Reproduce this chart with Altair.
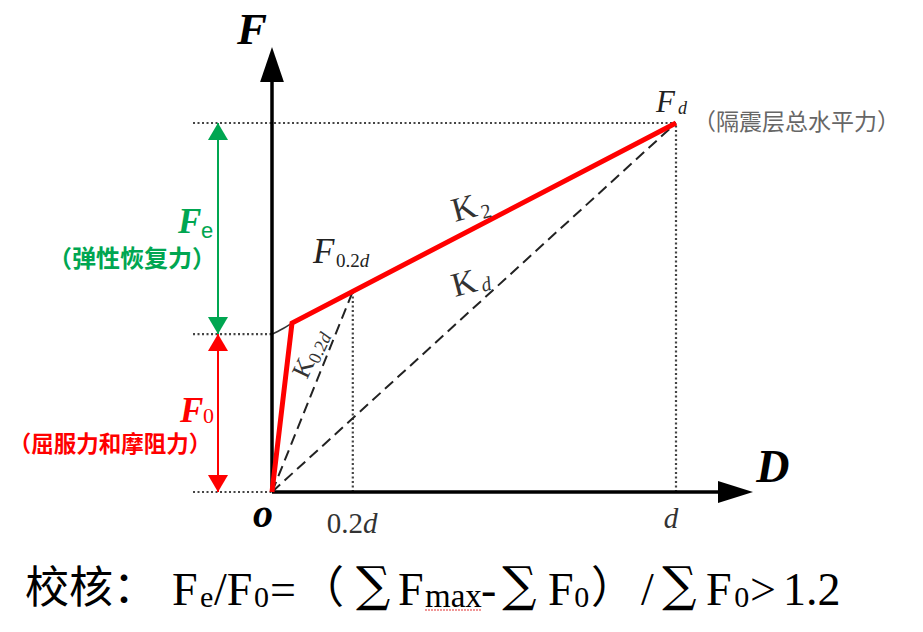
import altair as alt
import pandas as pd

# ---------------- diagram data (units: displacement d = 1, force Fd = 1) ----------------
curve_disp = [0.0, 0.0495, 1.0]          # O -> yield point -> d
curve_force = [0.0, 0.458, 1.0]          # 0 -> F0 kink -> Fd
F0_level = 0.428
d_02 = 0.2
F_02d = 0.544
d_full = 1.0
F_d = 1.0

secant_names = ["K0.2d", "Kd"]
secant_end_x = [d_02, d_full]
secant_end_y = [F_02d, F_d]

arc_x = [0.0, 0.024, 0.0495]
arc_y = [0.427, 0.441, 0.458]

axis_len = 1.12
y_arrow_tip = 1.206
x_arrow_tip = 1.1906
bracket_x = -0.1337
guide_left = -0.1955

# scale domains (plot frame)
XDOM = [-0.65347, 1.59158]
YDOM = [-0.35772, 1.31165]
xs = alt.Scale(domain=XDOM, nice=False, zero=False)
ys = alt.Scale(domain=YDOM, nice=False, zero=False)

GREEN = "#00a651"
RED = "#ff0000"

def X(f="x"):
    return alt.X(f"{f}:Q", scale=xs, axis=None)

def Y(f="y"):
    return alt.Y(f"{f}:Q", scale=ys, axis=None)

# ---------------- axes ----------------
axes_df = pd.DataFrame({
    "x": [0.0, 0.0], "x2": [0.0, axis_len],
    "y": [0.0, 0.0], "y2": [axis_len, 0.0],
})
axes = alt.Chart(axes_df).mark_rule(color="black", strokeWidth=3.5).encode(
    x=X(), x2="x2:Q", y=Y(), y2="y2:Q")

UP_BIG = "M0,0L0.34,1L-0.34,1Z"
RIGHT_BIG = "M0,0L-1,-0.314L-1,0.314Z"
UP_SMALL = "M0,0L0.59,1L-0.59,1Z"
DOWN_SMALL = "M0,0L0.59,-1L-0.59,-1Z"

heads_df = pd.DataFrame({
    "x": [0.0, x_arrow_tip, bracket_x, bracket_x, bracket_x, bracket_x],
    "y": [y_arrow_tip, 0.0, F_d, F0_level, F0_level, 0.0],
    "shape": [UP_BIG, RIGHT_BIG, UP_SMALL, DOWN_SMALL, UP_SMALL, DOWN_SMALL],
    "size": [4900, 4900, 1156, 1156, 1156, 1156],
    "color": ["black", "black", GREEN, GREEN, RED, RED],
})
heads = alt.Chart(heads_df).mark_point(filled=True, opacity=1, strokeWidth=0).encode(
    x=X(), y=Y(),
    shape=alt.Shape("shape:N", scale=None),
    size=alt.Size("size:Q", scale=None),
    color=alt.Color("color:N", scale=None))

# ---------------- dotted guides ----------------
guides_df = pd.DataFrame({
    "x": [guide_left, guide_left, guide_left, d_full, d_02],
    "x2": [d_full, 0.0, 0.0, d_full, d_02],
    "y": [F_d, F0_level, 0.0, 0.0, 0.0],
    "y2": [F_d, F0_level, 0.0, F_d, F_02d],
})
guides = alt.Chart(guides_df).mark_rule(color="#444444", strokeWidth=2.2, strokeDash=[2, 2.5]).encode(
    x=X(), x2="x2:Q", y=Y(), y2="y2:Q")

# ---------------- bracket lines ----------------
brk_df = pd.DataFrame({
    "x": [bracket_x, bracket_x], "y": [F0_level, 0.0], "y2": [F_d, F0_level],
    "color": [GREEN, RED],
})
brackets = alt.Chart(brk_df).mark_rule(strokeWidth=2).encode(
    x=X(), y=Y(), y2="y2:Q", color=alt.Color("color:N", scale=None))

# ---------------- secants ----------------
sec_df = pd.DataFrame({"name": secant_names, "x": [0.0, 0.0], "y": [0.0, 0.0],
                       "x2": secant_end_x, "y2": secant_end_y})
secants = alt.Chart(sec_df).mark_rule(color="#222222", strokeWidth=2, strokeDash=[11, 6]).encode(
    x=X(), x2="x2:Q", y=Y(), y2="y2:Q")

# ---------------- curve ----------------
curve_df = pd.DataFrame({"x": curve_disp, "y": curve_force, "o": [0, 1, 2]})
curve = alt.Chart(curve_df).mark_line(color=RED, strokeWidth=5, strokeJoin="miter").encode(
    x=X(), y=Y(), order="o:Q")

arc_df = pd.DataFrame({"x": arc_x, "y": arc_y, "o": [0, 1, 2]})
arc = alt.Chart(arc_df).mark_line(color="#333333", strokeWidth=1.5, interpolate="monotone").encode(
    x=X(), y=Y(), order="o:Q")

# ---------------- text ----------------
FONTS = {
    "serif": ("Liberation Serif", "normal", "normal"),
    "serif_i": ("Liberation Serif", "italic", "normal"),
    "serif_bi": ("Liberation Serif", "italic", "bold"),
    "sans": ("Liberation Sans", "normal", "normal"),
    "cjk": ("Noto Sans CJK SC", "normal", "normal"),
    "cjk_b": ("Noto Sans CJK SC", "normal", "bold"),
    "sym": ("DejaVu Serif", "normal", "normal"),
}

# text, x, y, style, size, color, angle, align, baseline
labels = [
    ("F", -0.0495, 1.2140, "serif_bi", 45, "black", 0, "center", "alphabetic"),
    ("D", 1.240, 0.0271, "serif_bi", 46, "black", 0, "center", "alphabetic"),
    ("o", -0.0223, -0.0949, "serif_bi", 40, "black", 0, "center", "alphabetic"),
    ("0.2", 0.2252, -0.111, "serif", 29, "#333333", 0, "right", "alphabetic"),
    ("d", 0.2252, -0.111, "serif_i", 29, "#333333", 0, "left", "alphabetic"),
    ("d", 0.9876, -0.0976, "serif_i", 29, "#333333", 0, "center", "alphabetic"),
    # Fd
    ("F", 0.9505, 1.0298, "serif_i", 31, "#222222", 0, "left", "alphabetic"),
    ("d", 1.0050, 1.0244, "serif_i", 18, "#222222", 0, "left", "alphabetic"),
    ("（隔震层总水平力）", 1.042, 1.0, "cjk", 23, "#666666", 0, "left", "middle"),
    # F0.2d
    ("F", 0.1015, 0.6206, "serif_i", 35, "#222222", 0, "left", "alphabetic"),
    ("0.2", 0.1584, 0.6098, "serif", 19, "#222222", 0, "left", "alphabetic"),
    ("d", 0.2172, 0.6098, "serif_i", 19, "#222222", 0, "left", "alphabetic"),
    # K2, Kd
    ("K", 0.453, 0.7317, "serif", 34, "#333333", 345, "left", "alphabetic"),
    ("2", 0.5223, 0.7398, "serif", 20, "#333333", 345, "left", "alphabetic"),
    ("K", 0.453, 0.5285, "serif", 34, "#333333", 345, "left", "alphabetic"),
    ("d", 0.5223, 0.542, "serif_i", 20, "#333333", 345, "left", "alphabetic"),
    # K0.2d
    ("K", 0.0866, 0.3035, "serif", 26, "#333333", 295, "left", "alphabetic"),
    ("0.2", 0.1151, 0.345, "serif", 18, "#333333", 295, "left", "alphabetic"),
    ("d", 0.1386, 0.4003, "serif_i", 18, "#333333", 295, "left", "alphabetic"),
    # Fe / F0 brackets
    ("F", -0.2327, 0.7019, "serif_bi", 35, GREEN, 0, "left", "alphabetic"),
    ("e", -0.1757, 0.6883, "sans", 22, GREEN, 0, "left", "alphabetic"),
    ("（弹性恢复力）", -0.3465, 0.6287, "cjk_b", 24, GREEN, 0, "center", "middle"),
    ("F", -0.2277, 0.1897, "serif_bi", 35, RED, 0, "left", "alphabetic"),
    ("0", -0.1708, 0.187, "serif", 22, RED, 0, "left", "alphabetic"),
    ("（屈服力和摩阻力）", -0.401, 0.1274, "cjk_b", 22.5, RED, 0, "center", "middle"),
    # bottom formula
    ("校核：", -0.6114, -0.3008, "cjk", 44, "black", 0, "left", "alphabetic"),
    ("F", -0.2475, -0.3062, "serif", 46, "black", 0, "left", "alphabetic"),
    ("e", -0.1782, -0.3117, "serif", 30, "black", 0, "left", "alphabetic"),
    ("/F", -0.1436, -0.3062, "serif", 46, "black", 0, "left", "alphabetic"),
    ("0", -0.0446, -0.3117, "serif", 30, "black", 0, "left", "alphabetic"),
    ("=", -0.00495, -0.3062, "serif", 46, "black", 0, "left", "alphabetic"),
    ("（", 0.0693, -0.3008, "cjk", 44, "black", 0, "left", "alphabetic"),
    ("∑", 0.2080, -0.2954, "sym", 48, "black", 0, "left", "alphabetic"),
    ("F", 0.3119, -0.3062, "serif", 46, "black", 0, "left", "alphabetic"),
    ("max", 0.3787, -0.3117, "serif", 33, "black", 0, "left", "alphabetic"),
    ("-", 0.5173, -0.3062, "serif", 46, "black", 0, "left", "alphabetic"),
    ("∑", 0.5700, -0.2954, "sym", 48, "black", 0, "left", "alphabetic"),
    ("F", 0.6832, -0.3062, "serif", 46, "black", 0, "left", "alphabetic"),
    ("0", 0.7480, -0.3117, "serif", 30, "black", 0, "left", "alphabetic"),
    ("）", 0.7896, -0.3008, "cjk", 44, "black", 0, "left", "alphabetic"),
    ("/", 0.9134, -0.3062, "serif", 46, "black", 0, "left", "alphabetic"),
    ("∑", 0.9660, -0.2954, "sym", 48, "black", 0, "left", "alphabetic"),
    ("F", 1.0743, -0.3062, "serif", 46, "black", 0, "left", "alphabetic"),
    ("0", 1.1440, -0.3117, "serif", 30, "black", 0, "left", "alphabetic"),
    (">", 1.1832, -0.3062, "serif", 46, "black", 0, "left", "alphabetic"),
    ("1.2", 1.2649, -0.3062, "serif", 46, "black", 0, "left", "alphabetic"),
]
lab_df = pd.DataFrame(labels, columns=["text", "x", "y", "style", "size", "color",
                                       "angle", "align", "baseline"])

text_layers = []
for (style, align, baseline), grp in lab_df.groupby(["style", "align", "baseline"]):
    font, fstyle, fweight = FONTS[style]
    text_layers.append(
        alt.Chart(grp.reset_index(drop=True)).mark_text(
            font=font, fontStyle=fstyle, fontWeight=fweight, align=align, baseline=baseline
        ).encode(
            x=X(), y=Y(), text="text:N",
            size=alt.Size("size:Q", scale=None),
            color=alt.Color("color:N", scale=None),
            angle=alt.Angle("angle:Q", scale=None),
        )
    )

# spell-check squiggle under "max"
sq_df = pd.DataFrame({"x": [0.3787], "x2": [0.5173], "y": [-0.3198]})
squiggle = alt.Chart(sq_df).mark_rule(color="#e03030", strokeWidth=1.2, strokeDash=[2, 1]).encode(
    x=X(), x2="x2:Q", y=Y())

chart = alt.layer(
    guides, brackets, secants, arc, axes, heads, curve, squiggle, *text_layers
).properties(
    width=907, height=616, padding=0,
    autosize=alt.AutoSizeParams(type="none"),
    background="white",
).configure_view(stroke=None)

chart.save("out.html", embed_options={"renderer": "svg", "actions": False})
